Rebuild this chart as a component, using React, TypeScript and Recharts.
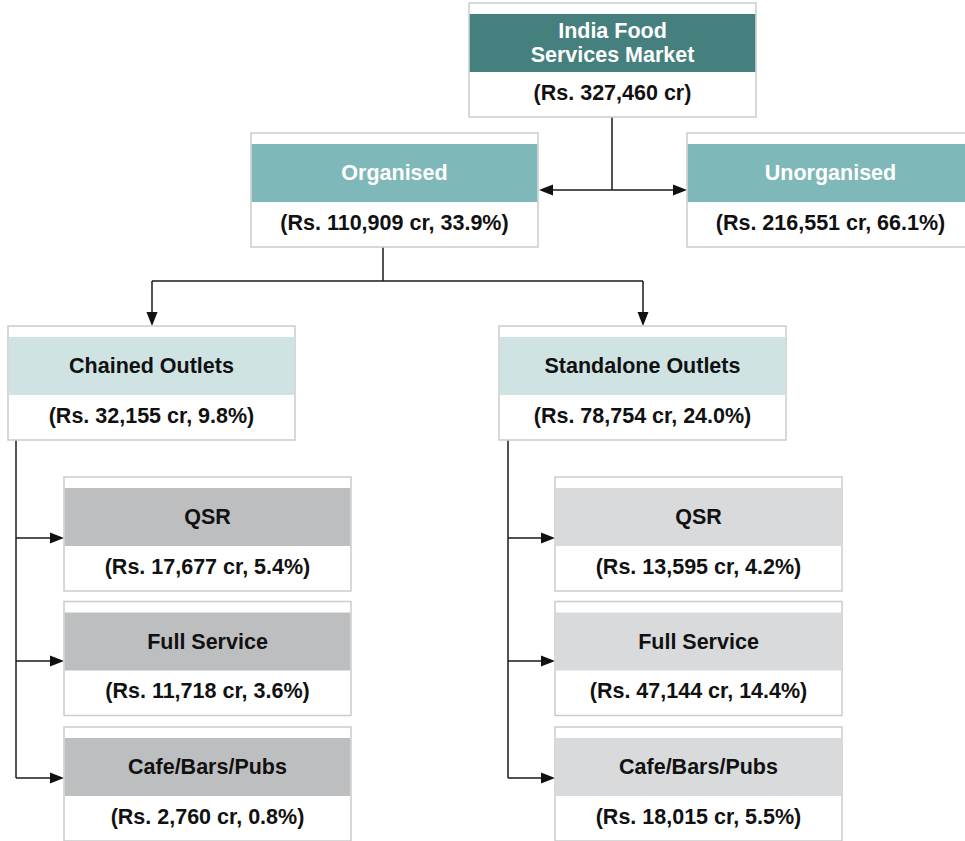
import { ScatterChart, Scatter, XAxis, YAxis, ReferenceLine } from "recharts";

// node texts and values
const nodeNames = [
  "India Food\nServices Market",
  "Organised",
  "Unorganised",
  "Chained Outlets",
  "Standalone Outlets",
  "QSR",
  "Full Service",
  "Cafe/Bars/Pubs",
  "QSR",
  "Full Service",
  "Cafe/Bars/Pubs",
];
const nodeValues = [327460, 110909, 216551, 32155, 78754, 17677, 11718, 2760, 13595, 47144, 18015];
const nodeShares = [null, 33.9, 66.1, 9.8, 24.0, 5.4, 3.6, 0.8, 4.2, 14.4, 5.5];

// layout (box centres, in page pixels) and look
const nodeX = [612.5, 394.5, 830.5, 151.5, 642.5, 207.5, 207.5, 207.5, 698.5, 698.5, 698.5];
const nodeY = [60, 190, 190, 383, 383, 534, 658.5, 784, 534, 658.5, 784];
const headerFill = ["#457F7E", "#7FB8B8", "#7FB8B8", "#CFE3E3", "#CFE3E3", "#BDBEC0", "#BDBEC0", "#BDBEC0", "#D9DADB", "#D9DADB", "#D9DADB"];
const headerText = ["#fff", "#fff", "#fff", "#111", "#111", "#111", "#111", "#111", "#111", "#111", "#111"];

// connectors: [x1, y1, x2, y2, arrow]
const edges: [number, number, number, number, boolean][] = [
  [612, 117, 612, 190, false],
  [612, 190, 539, 190, true],
  [612, 190, 687, 190, true],
  [383, 247, 383, 281, false],
  [152, 281, 643, 281, false],
  [152, 281, 152, 326, true],
  [643, 281, 643, 326, true],
  [16, 440, 16, 778, false],
  [16, 538, 64, 538, true],
  [16, 661, 64, 661, true],
  [16, 778, 64, 778, true],
  [508, 440, 508, 778, false],
  [508, 538, 555, 538, true],
  [508, 661, 555, 661, true],
  [508, 778, 555, 778, true],
];

const W = 965;
const H = 841;
const BOX_W = 287;
const BOX_H = 114;
const FS = 21.5;
const FONT = "'Liberation Sans', Arial, Helvetica, sans-serif";

const nodes = nodeNames.map((name, i) => ({
  name,
  x: nodeX[i],
  y: nodeY[i],
  value: nodeValues[i],
  share: nodeShares[i],
  fill: headerFill[i],
  color: headerText[i],
}));

const fmt = (v: number, s: number | null) =>
  s == null
    ? `(Rs. ${v.toLocaleString("en-US")} cr)`
    : `(Rs. ${v.toLocaleString("en-US")} cr, ${s.toFixed(1)}%)`;

function NodeBox(props: any) {
  const { cx, cy, payload } = props;
  const left = cx - BOX_W / 2;
  const top = cy - BOX_H / 2;
  const lines = String(payload.name).split("\n");
  const hTop = top + 11;
  const hH = 58;
  const hMid = hTop + hH / 2;
  return (
    <g>
      <rect x={left} y={top} width={BOX_W} height={BOX_H} fill="#fff" stroke="#CBCBCB" strokeWidth={1.5} />
      <rect x={left + 0.75} y={hTop} width={BOX_W - 1.5} height={hH} fill={payload.fill} />
      {lines.map((l: string, k: number) => (
        <text
          key={k}
          x={cx}
          y={hMid + (k - (lines.length - 1) / 2) * 24}
          textAnchor="middle"
          dominantBaseline="central"
          fontFamily={FONT}
          fontWeight="bold"
          fontSize={FS}
          fill={payload.color}
        >
          {l}
        </text>
      ))}
      <text
        x={cx}
        y={(hTop + hH + top + BOX_H) / 2 - 2}
        textAnchor="middle"
        dominantBaseline="central"
        fontFamily={FONT}
        fontWeight="bold"
        fontSize={FS}
        fill="#111"
      >
        {fmt(payload.value, payload.share)}
      </text>
    </g>
  );
}

function Connector(arrow: boolean) {
  return (p: any) => {
    const { x1, y1, x2, y2 } = p;
    if (!arrow) return <line x1={x1} y1={y1} x2={x2} y2={y2} stroke="#1a1a1a" strokeWidth={1.5} />;
    const len = Math.hypot(x2 - x1, y2 - y1) || 1;
    const ux = (x2 - x1) / len;
    const uy = (y2 - y1) / len;
    const bx = x2 - ux * 14;
    const by = y2 - uy * 14;
    const pts = `${x2},${y2} ${bx - uy * 5.5},${by + ux * 5.5} ${bx + uy * 5.5},${by - ux * 5.5}`;
    return (
      <g>
        <line x1={x1} y1={y1} x2={bx} y2={by} stroke="#1a1a1a" strokeWidth={1.5} />
        <polygon points={pts} fill="#111" />
      </g>
    );
  };
}

export default function App() {
  return (
    <div style={{ position: "absolute", left: 0, top: 0, width: W, height: H, background: "#fff" }}>
      <ScatterChart width={W} height={H} margin={{ top: 0, right: 0, bottom: 0, left: 0 }}>
        <XAxis type="number" dataKey="x" domain={[0, W]} hide />
        <YAxis type="number" dataKey="y" domain={[0, H]} reversed hide />
        {edges.map((e, i) => (
          <ReferenceLine
            key={i}
            segment={[
              { x: e[0], y: e[1] },
              { x: e[2], y: e[3] },
            ]}
            ifOverflow="visible"
            shape={Connector(e[4])}
          />
        ))}
        <Scatter data={nodes} shape={NodeBox} isAnimationActive={false} />
      </ScatterChart>
    </div>
  );
}
